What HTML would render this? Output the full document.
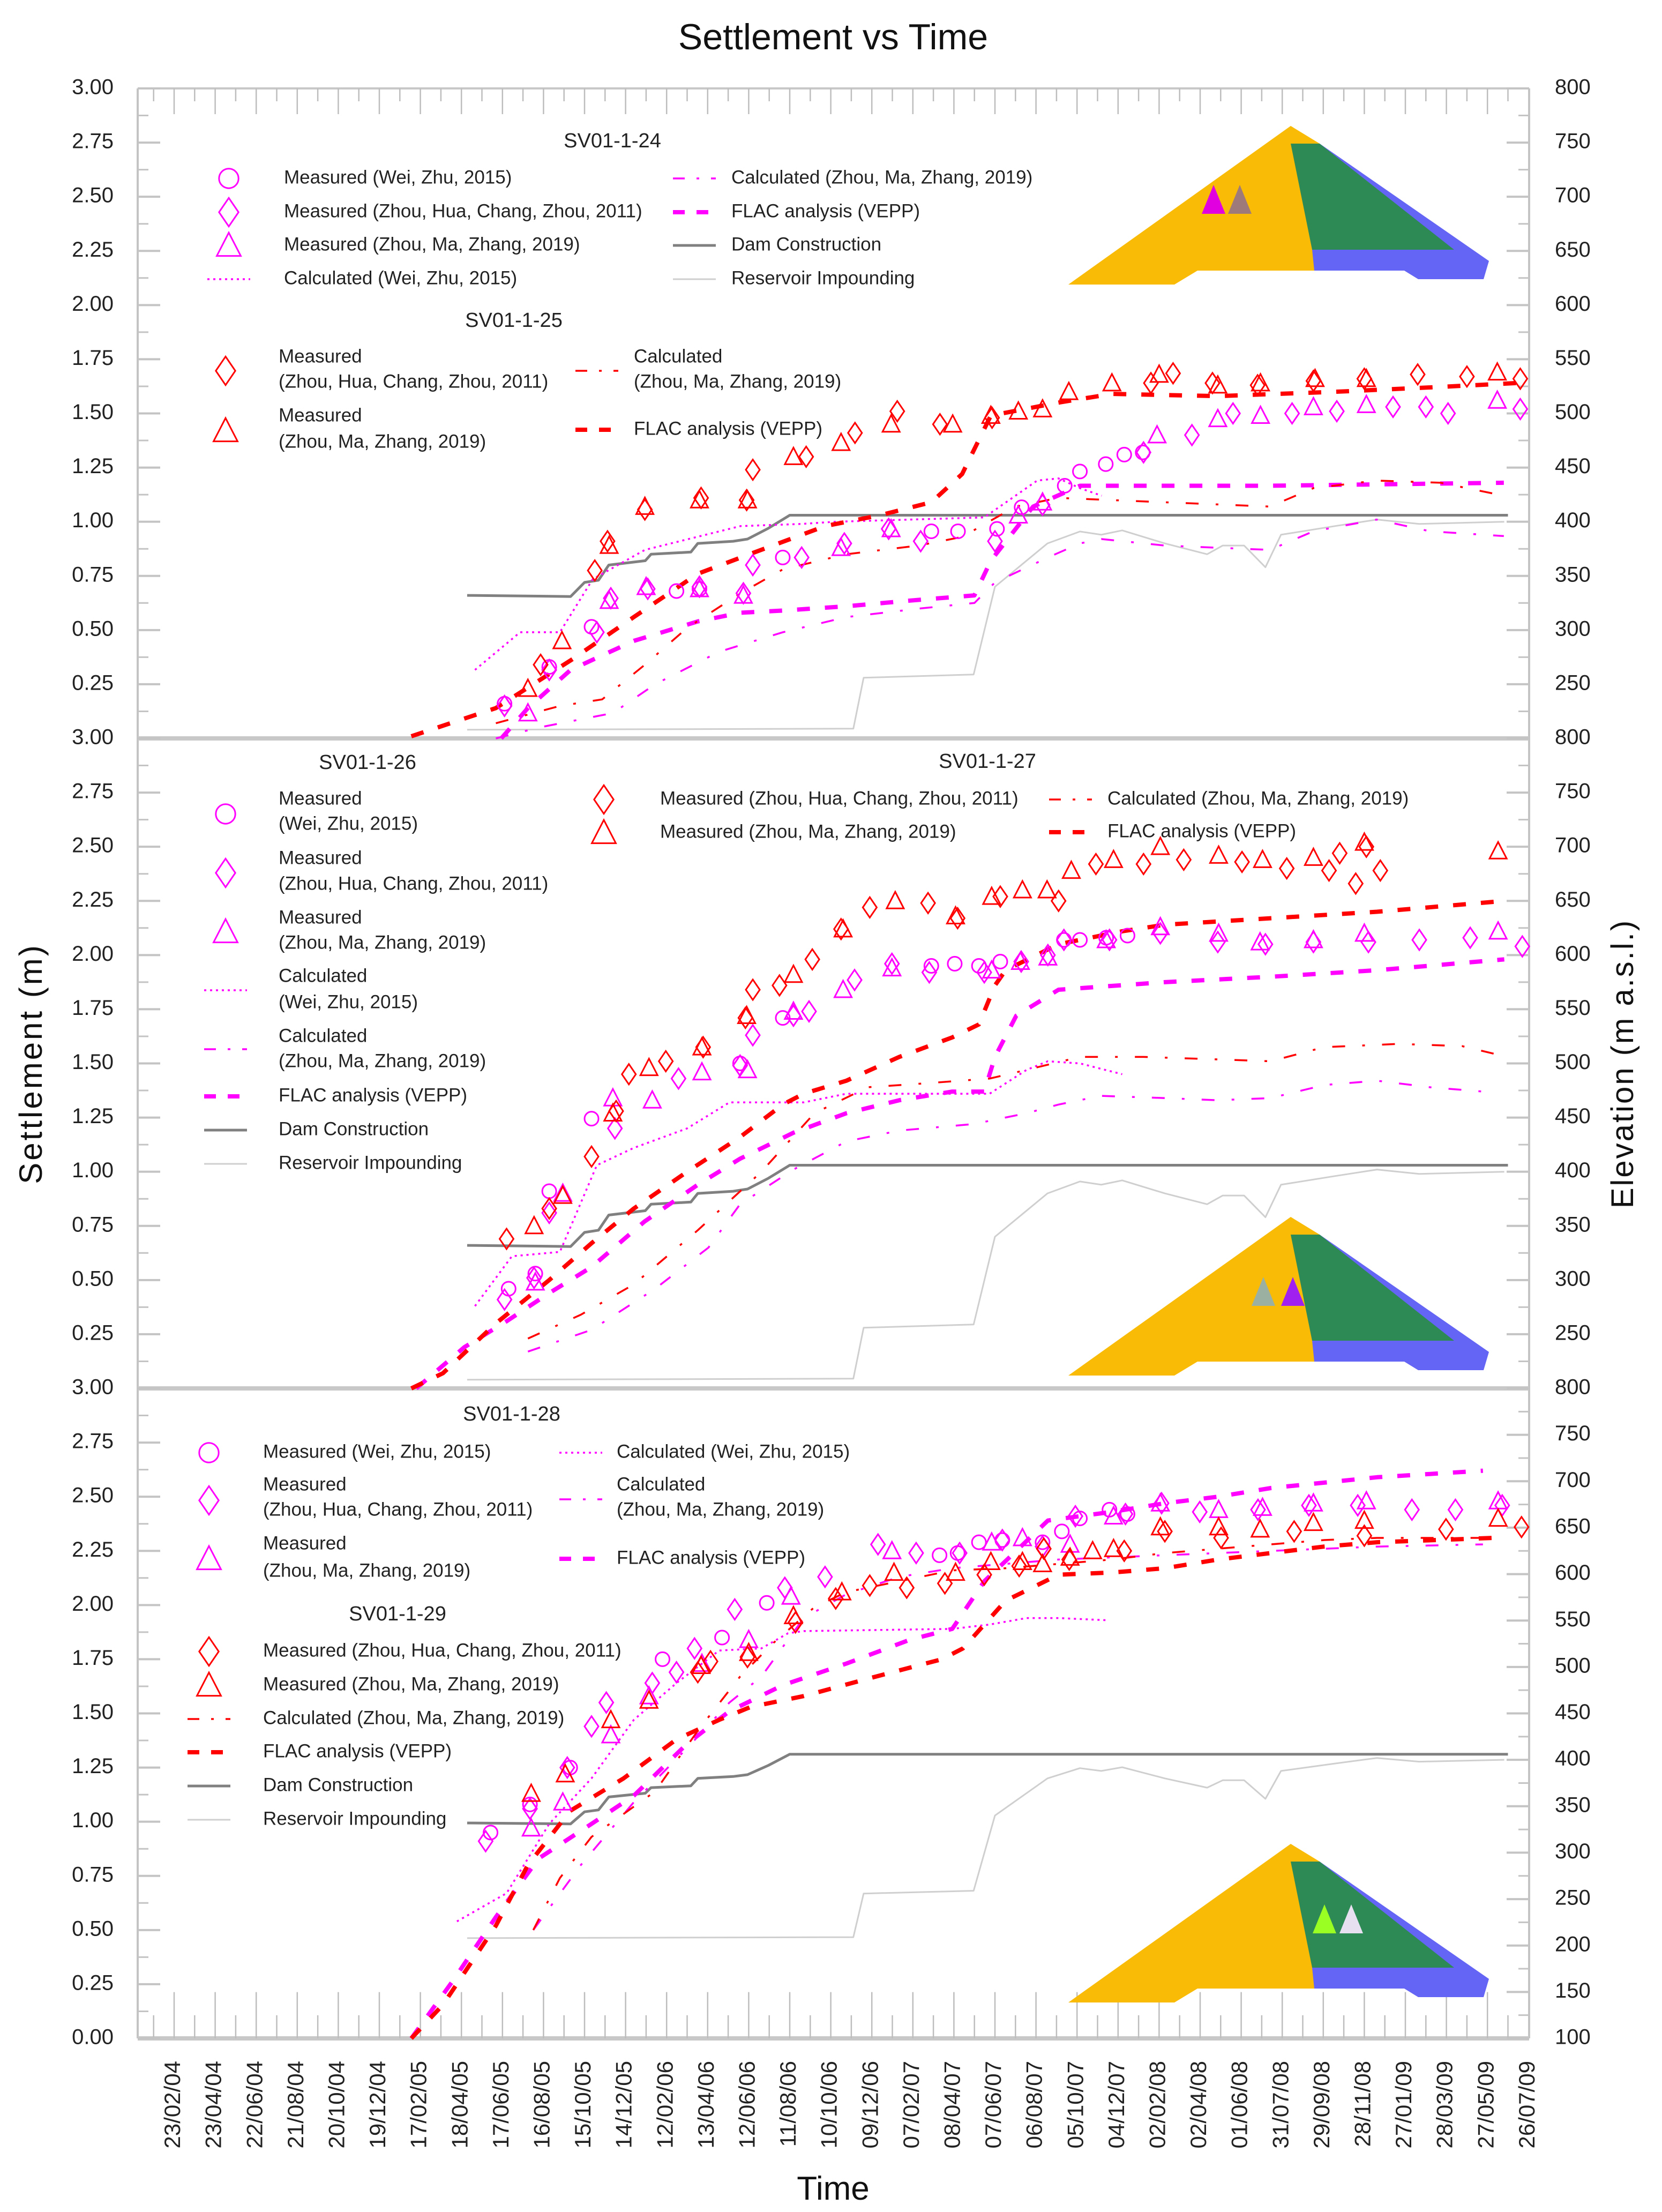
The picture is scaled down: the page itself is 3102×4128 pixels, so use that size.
<!DOCTYPE html>
<html><head><meta charset="utf-8"><title>Settlement vs Time</title>
<style>
html,body{margin:0;padding:0;background:#fff;}
svg{display:block;font-family:"Liberation Sans",sans-serif;}
</style></head>
<body>
<svg id="chart" xmlns="http://www.w3.org/2000/svg" width="3102" height="4128" viewBox="0 0 3102 4128">
<rect x="0" y="0" width="3102" height="4128" fill="#fff"/>
<text x="1555" y="92" font-size="68" text-anchor="middle" fill="#111">Settlement vs Time</text>
<text x="1555" y="4105" font-size="62" text-anchor="middle" fill="#111">Time</text>
<text x="78" y="1985" font-size="60" letter-spacing="4" text-anchor="middle" fill="#111" transform="rotate(-90,78,1985)">Settlement (m)</text>
<text x="3048" y="1985" font-size="58" letter-spacing="3" text-anchor="middle" fill="#111" transform="rotate(-90,3048,1985)">Elevation (m a.s.l.)</text>
</svg>
<script>
// ---------- data (t = periods of 60 days since 23/02/04, s = settlement m, e = elevation m) ----------
const dateLabels = ["23/02/04","23/04/04","22/06/04","21/08/04","20/10/04","19/12/04","17/02/05","18/04/05","17/06/05","16/08/05","15/10/05","14/12/05","12/02/06","13/04/06","12/06/06","11/08/06","10/10/06","09/12/06","07/02/07","08/04/07","07/06/07","06/08/07","05/10/07","04/12/07","02/02/08","02/04/08","01/06/08","31/07/08","29/09/08","28/11/08","27/01/09","28/03/09","27/05/09","26/07/09"];
const settleTicks = [0,0.25,0.5,0.75,1.0,1.25,1.5,1.75,2.0,2.25,2.5,2.75,3.0];
const elevTicksA = [200,250,300,350,400,450,500,550,600,650,700,750,800];
const elevTicksB = [100,150,200,250,300,350,400,450,500,550,600,650,700,750,800];

const damT = [7.14,9.66,10.0,10.34,10.59,11.48,11.62,12.59,12.76,13.62,13.97,14.48,15.0,32.5];
const damE = [332,331,344,346,360,364,370,372,380,382,384,394,406,406];
const resT = [7.14,16.55,16.8,19.48,20.0,21.28,22.07,22.59,23.1,24.14,25.17,25.55,26.07,26.59,26.97,28.28,29.31,30.34,32.41];
const resE = [208,209,256,259,340,380,391,388,392,380,370,378,378,358,388,396,402,398,400];

// Panel 1 (SV01-1-24 magenta, SV01-1-25 red)
const p1RedFlacT=[5.78,7.84,9.66,11.2,12.76,14.3,15.86,17.2,18.45,19.2,19.9,21.55,22.85,25.43,28.3,30.6,32.7];
const p1RedFlacS=[0.01,0.14,0.36,0.56,0.76,0.87,0.98,1.03,1.09,1.22,1.49,1.55,1.59,1.58,1.60,1.62,1.64];
const p1RedDiamT=[8.93,10.25,10.56,11.47,12.84,13.95,14.1,15.4,16.59,17.62,18.66,19.93,23.8,24.34,25.3,26.4,27.76,29.0,30.3,31.5,32.8];
const p1RedDiamS=[0.34,0.775,0.91,1.056,1.11,1.10,1.24,1.30,1.41,1.51,1.45,1.48,1.64,1.685,1.64,1.63,1.65,1.66,1.68,1.67,1.66];
const p1RedTriT=[8.62,9.45,10.6,11.47,12.8,13.97,15.09,16.25,17.47,18.97,19.9,20.57,21.16,21.8,22.85,24.0,25.43,26.47,27.8,29.05,32.24];
const p1RedTriS=[0.23,0.45,0.89,1.07,1.10,1.10,1.30,1.365,1.45,1.45,1.49,1.51,1.52,1.60,1.64,1.68,1.63,1.64,1.66,1.66,1.69];
const p1RedCalcT=[7.84,9.4,10.43,11.47,12.5,13.8,14.83,16.38,18.14,19.2,20.5,21.55,24.14,26.7,27.76,29.3,30.86,32.4];
const p1RedCalcS=[0.07,0.15,0.18,0.34,0.51,0.67,0.78,0.85,0.89,0.93,1.07,1.11,1.09,1.07,1.155,1.19,1.18,1.12];
const p1MagCircT=[8.05,9.14,10.17,12.24,12.8,14.83,18.45,19.1,20.05,20.65,21.7,22.07,22.7,23.15,23.6];
const p1MagCircS=[0.16,0.33,0.515,0.68,0.69,0.835,0.956,0.956,0.967,1.067,1.166,1.232,1.266,1.31,1.32];
const p1MagDiamT=[8.05,9.14,10.3,10.64,11.54,12.8,13.87,14.1,15.29,16.33,17.41,18.19,20.0,21.16,23.62,24.8,25.8,27.24,28.33,29.7,30.5,31.04,32.8];
const p1MagDiamS=[0.15,0.316,0.49,0.647,0.69,0.70,0.67,0.80,0.835,0.90,0.967,0.91,0.91,1.078,1.32,1.40,1.50,1.50,1.51,1.53,1.53,1.50,1.52];
const p1MagTriT=[8.62,10.6,11.5,12.8,13.87,16.25,17.47,20.57,21.16,23.95,25.43,26.47,27.76,29.05,32.24];
const p1MagTriS=[0.117,0.636,0.70,0.69,0.66,0.88,0.967,1.03,1.09,1.40,1.475,1.49,1.53,1.54,1.56];
const p1MagDotT=[7.33,8.43,9.4,10.2,11.47,13.8,15.3,16.1,19.74,21.03,21.55,22.07,22.6];
const p1MagDotS=[0.316,0.49,0.49,0.735,0.87,0.98,0.99,1.0,1.02,1.19,1.20,1.155,1.12];
const p1MagFlacT=[7.97,8.62,9.66,11.2,12.76,13.8,14.83,16.38,17.93,19.5,19.9,20.93,22.07,26.7,32.4];
const p1MagFlacS=[0,0.14,0.316,0.45,0.54,0.58,0.59,0.61,0.636,0.66,0.82,1.07,1.166,1.166,1.18];
const p1MagCalcT=[7.84,8.88,10.69,11.72,13.28,14.83,16.38,18.19,19.5,20.0,21.29,22.07,22.6,24.14,26.7,27.76,29.3,30.6,32.4];
const p1MagCalcS=[0,0.05,0.117,0.25,0.40,0.49,0.56,0.60,0.625,0.72,0.835,0.90,0.92,0.89,0.87,0.956,1.01,0.956,0.934];

// Panel 2 (SV01-1-26 magenta, SV01-1-27 red)
const p2RedFlacT=[5.78,6.55,7.84,9.14,10.17,11.2,12.5,13.79,14.83,15.34,16.38,17.67,18.96,19.61,20.0,20.26,21.55,23.1,24.14,26.72,29.31,32.41];
const p2RedFlacS=[0,0.07,0.30,0.50,0.67,0.83,1.0,1.16,1.31,1.36,1.42,1.53,1.62,1.68,1.86,1.93,2.05,2.11,2.14,2.17,2.20,2.25];
const p2RedCalcT=[8.62,9.91,11.2,12.76,14.31,15.6,16.9,18.45,19.87,20.77,22.07,23.62,25.17,26.72,28.02,29.83,31.38,32.15];
const p2RedCalcS=[0.23,0.34,0.48,0.73,1.0,1.27,1.39,1.41,1.43,1.47,1.53,1.53,1.52,1.51,1.575,1.59,1.58,1.545];
const p2RedDiamT=[8.10,9.14,10.17,10.77,11.08,11.98,12.89,13.92,14.10,14.75,15.55,16.25,16.95,18.37,19.09,20.13,21.55,22.46,23.62,24.60,26.02,27.11,28.14,28.40,28.79,29.05,29.39];
const p2RedDiamS=[0.69,0.83,1.07,1.28,1.45,1.51,1.575,1.71,1.84,1.86,1.98,2.12,2.22,2.24,2.17,2.27,2.25,2.42,2.42,2.44,2.43,2.40,2.39,2.47,2.33,2.50,2.39];
const p2RedTriT=[8.77,9.47,10.69,11.57,12.86,13.95,15.09,16.30,17.57,19.04,19.92,20.67,21.27,21.86,22.89,24.03,25.45,26.52,27.76,29.0,32.26];
const p2RedTriS=[0.75,0.89,1.27,1.48,1.575,1.72,1.91,2.12,2.25,2.18,2.27,2.30,2.30,2.39,2.44,2.50,2.46,2.44,2.45,2.52,2.48];
const p2MagCircT=[8.15,8.80,9.14,10.17,13.79,14.83,18.45,19.02,19.61,20.13,21.68,22.07,22.71,23.23];
const p2MagCircS=[0.46,0.53,0.91,1.245,1.50,1.71,1.95,1.96,1.95,1.97,2.07,2.07,2.08,2.09];
const p2MagDiamT=[8.05,8.77,9.14,10.74,12.29,13.79,14.10,15.09,15.47,16.58,17.49,18.40,19.74,20.64,21.29,21.68,22.79,24.03,25.43,26.59,27.76,29.1,30.34,31.58,32.85];
const p2MagDiamS=[0.41,0.51,0.81,1.20,1.43,1.49,1.63,1.72,1.74,1.885,1.96,1.92,1.92,1.97,2.0,2.07,2.07,2.10,2.06,2.05,2.06,2.06,2.07,2.08,2.04];
const p2MagTriT=[8.80,9.47,10.69,11.65,12.86,13.97,15.09,16.30,17.49,19.92,20.62,21.29,22.71,24.03,25.45,26.46,27.76,29.0,32.26];
const p2MagTriS=[0.49,0.90,1.34,1.33,1.46,1.47,1.74,1.84,1.94,1.93,1.97,1.99,2.07,2.13,2.10,2.06,2.07,2.10,2.11];
const p2MagDotT=[7.33,8.23,9.40,10.30,11.20,12.50,13.53,15.34,16.38,19.87,20.77,21.29,22.07,23.10];
const p2MagDotS=[0.38,0.61,0.63,1.03,1.11,1.20,1.32,1.32,1.36,1.36,1.47,1.51,1.50,1.45];
const p2MagFlacT=[5.90,7.07,8.10,9.14,10.17,11.46,12.76,13.79,15.09,16.38,17.67,18.96,19.74,20.0,20.52,21.55,24.14,26.72,29.31,32.41];
const p2MagFlacS=[0,0.19,0.31,0.44,0.56,0.77,0.94,1.06,1.18,1.27,1.33,1.37,1.37,1.53,1.72,1.84,1.875,1.90,1.93,1.98];
const p2MagCalcT=[8.62,10.17,11.72,13.02,13.79,15.09,16.38,17.67,19.48,20.77,21.55,22.58,24.14,25.43,26.72,28.02,29.31,30.6,31.89];
const p2MagCalcS=[0.17,0.27,0.46,0.65,0.85,1.01,1.14,1.19,1.22,1.27,1.31,1.35,1.34,1.33,1.34,1.40,1.42,1.39,1.37];

// Panel 3 (SV01-1-28 magenta, SV01-1-29 red)
const p3RedFlacT=[5.78,6.55,7.84,8.62,9.65,10.95,12.24,13.28,14.05,15.34,16.90,18.71,19.22,20.26,21.55,22.84,24.14,25.43,26.72,28.02,29.31,32.15];
const p3RedFlacS=[0,0.155,0.52,0.80,1.05,1.20,1.38,1.47,1.53,1.58,1.66,1.75,1.80,2.02,2.14,2.15,2.17,2.21,2.24,2.27,2.29,2.31];
const p3RedCalcT=[8.75,9.40,10.17,11.72,12.76,13.79,14.57,15.60,16.38,17.67,18.96,20.26,21.55,22.84,24.14,25.43,26.72,28.02,29.31,32.15];
const p3RedCalcS=[0.50,0.74,0.93,1.14,1.42,1.67,1.82,1.99,2.06,2.11,2.16,2.17,2.19,2.21,2.24,2.26,2.28,2.30,2.31,2.31];
const p3RedDiamT=[12.76,13.07,13.97,15.14,16.12,16.95,17.85,18.78,19.74,20.59,21.19,21.81,23.15,24.14,25.51,27.29,29.0,30.99,32.83];
const p3RedDiamS=[1.69,1.74,1.76,1.92,2.03,2.09,2.08,2.10,2.14,2.18,2.26,2.21,2.25,2.34,2.31,2.34,2.32,2.35,2.36];
const p3RedTriT=[8.70,9.53,10.64,11.57,12.84,14.0,15.09,16.27,17.54,19.04,19.90,20.67,21.16,21.83,22.38,22.89,24.03,25.45,26.46,27.76,29.0,32.26];
const p3RedTriS=[1.13,1.22,1.47,1.56,1.72,1.78,1.95,2.06,2.15,2.15,2.20,2.20,2.19,2.22,2.25,2.26,2.36,2.36,2.35,2.38,2.39,2.40];
const p3MagCircT=[7.71,8.67,9.65,11.90,13.35,14.44,18.65,19.09,19.61,20.18,21.16,21.63,22.07,22.79,23.23];
const p3MagCircS=[0.95,1.08,1.25,1.75,1.85,2.01,2.23,2.24,2.29,2.30,2.29,2.34,2.40,2.44,2.42];
const p3MagDiamT=[7.59,8.67,9.58,10.17,10.53,11.65,12.24,12.68,13.66,14.88,15.86,17.15,18.08,19.14,20.18,21.16,21.96,23.18,24.06,24.99,26.41,27.65,28.84,30.16,31.22,32.36];
const p3MagDiamS=[0.91,1.06,1.25,1.44,1.55,1.64,1.69,1.80,1.98,2.08,2.13,2.28,2.24,2.24,2.30,2.27,2.41,2.42,2.47,2.43,2.44,2.46,2.46,2.44,2.44,2.46];
const p3MagTriT=[8.70,9.47,10.64,11.57,12.86,14.0,15.03,17.49,19.92,20.67,21.83,22.89,24.03,25.45,26.52,27.76,29.05,32.26];
const p3MagTriS=[0.97,1.09,1.40,1.58,1.73,1.84,2.04,2.25,2.29,2.31,2.28,2.41,2.47,2.44,2.45,2.47,2.48,2.48];
const p3MagDotT=[6.89,8.10,9.14,10.17,11.20,12.24,13.28,14.31,14.96,15.34,18.96,19.87,20.77,21.55,22.71];
const p3MagDotS=[0.54,0.67,0.99,1.20,1.47,1.64,1.79,1.80,1.87,1.88,1.89,1.91,1.94,1.94,1.93];
const p3MagFlacT=[5.78,6.81,7.84,8.88,10.17,11.20,12.50,13.53,14.83,16.38,17.93,18.96,19.74,20.52,21.29,22.84,24.14,25.43,26.72,29.31,31.89];
const p3MagFlacS=[0,0.27,0.56,0.83,0.99,1.12,1.36,1.51,1.63,1.73,1.84,1.89,2.11,2.25,2.39,2.43,2.47,2.50,2.54,2.59,2.62];
const p3MagCalcT=[8.75,9.91,11.20,12.50,13.53,14.31,15.34,16.38,17.67,18.96,20.26,21.55,24.14,26.72,29.31,31.89];
const p3MagCalcS=[0.50,0.80,1.09,1.34,1.55,1.67,1.94,2.05,2.13,2.17,2.19,2.21,2.23,2.25,2.27,2.28];

// ---------- layout ----------
const NS = "http://www.w3.org/2000/svg";
const svg = document.getElementById('chart');
const L = 257, R = 2854, PH = 1213;
const panelTop = [165, 1378, 2591];
const RED = "#ff0000", MAG = "#ff00ff";
function xOf(t){ return 325 + 76.6 * t; }
function yOf(s, p){ return panelTop[p] + (3 - s) / 3 * PH; }
function elevToS(e, p){ return p < 2 ? (e - 200) / 200 : (e - 100) * 3 / 700; }
function mk(tag, attrs, parent){
  const el = document.createElementNS(NS, tag);
  for (const k in attrs) el.setAttribute(k, attrs[k]);
  (parent || svg).appendChild(el);
  return el;
}
function txt(str, x, y, size, anchor, parent){
  const el = mk('text', {x:x, y:y, 'font-size':size, 'text-anchor':anchor||'start', 'dominant-baseline':'middle', fill:'#222'}, parent);
  el.textContent = str;
  return el;
}
const STYLES = {
  flac: {w:8, dash:"24 28"},
  calc: {w:3.5, dash:"24 32 5 32"},
  dot: {w:3.5, dash:"4 7"},
  dam: {w:5, dash:"none", color:"#808080"},
  res: {w:3, dash:"none", color:"#cfcfcf"}
};
function linePath(ts, ss, p, style, color, parent){
  const st = STYLES[style];
  const d = ts.map((t,i)=>(i?'L':'M')+xOf(t).toFixed(1)+','+yOf(ss[i],p).toFixed(1)).join('');
  return mk('path', {d:d, fill:'none', stroke: st.color||color, 'stroke-width':st.w, 'stroke-dasharray':st.dash, 'stroke-linejoin':'round'}, parent);
}
function markerAt(type, x, y, color, parent, sc){
  sc = sc || 1;
  if (type==='circ') return mk('circle', {cx:x, cy:y, r:13*sc, fill:'none', stroke:color, 'stroke-width':3}, parent);
  if (type==='diam') return mk('path', {d:`M${x},${y-19*sc}L${x+13*sc},${y}L${x},${y+19*sc}L${x-13*sc},${y}Z`, fill:'none', stroke:color, 'stroke-width':3}, parent);
  return mk('path', {d:`M${x},${y-17*sc}L${x+16*sc},${y+14*sc}L${x-16*sc},${y+14*sc}Z`, fill:'none', stroke:color, 'stroke-width':3}, parent);
}
function scatter(ts, ss, p, type, color, parent){
  ts.forEach((t,i)=>{
    const m = markerAt(type, xOf(t), yOf(ss[i],p), color, parent);
    
    
  });
}

// ---------- axes ----------
const axes = mk('g', {});


mk('line', {x1:L, y1:165, x2:L, y2:3804, stroke:'#c4c4c4', 'stroke-width':4}, axes);
mk('line', {x1:R, y1:165, x2:R, y2:3804, stroke:'#c4c4c4', 'stroke-width':4}, axes);
[165, 1378, 2591, 3804].forEach((y,i)=>{
  const ln = mk('line', {x1:L, y1:y, x2:R, y2:y, stroke:'#c8c8c8', 'stroke-width': (i===0)?4:8}, axes);
  
  
});
for (let k=-1; k<=67; k++){
  const t = k/2, x = xOf(t);
  if (x < L+2 || x > R-2) continue;
  const len = (k%2===0) ? 48 : 24;
  mk('line', {x1:x, y1:165, x2:x, y2:165+len, stroke:'#bdbdbd', 'stroke-width':2.5}, axes);
  mk('line', {x1:x, y1:3804, x2:x, y2:3804-len*1.8, stroke:'#bdbdbd', 'stroke-width':2.5}, axes);
}
dateLabels.forEach((lab,i)=>{
  const x = xOf(i);
  const el = mk('text', {x:x, y:3846, 'font-size':42, 'text-anchor':'end', 'dominant-baseline':'middle', fill:'#222', transform:`rotate(-90,${x},3846)`}, axes);
  el.textContent = lab;
  
  
});
for (let p=0; p<3; p++){
  settleTicks.forEach((s,i)=>{
    const y = yOf(s,p);
    mk('line', {x1:L, y1:y, x2:L+42, y2:y, stroke:'#c4c4c4', 'stroke-width':4}, axes);
    if (s < 3) mk('line', {x1:L, y1:yOf(s+0.125,p), x2:L+20, y2:yOf(s+0.125,p), stroke:'#c4c4c4', 'stroke-width':3}, axes);
    if (s===0 && p<2) return;
    const el = txt(s.toFixed(2), 212, y, 40, 'end', axes);
    
    
  });
  const ticks = p<2 ? elevTicksA : elevTicksB;
  ticks.forEach((e,i)=>{
    const y = yOf(elevToS(e,p),p);
    mk('line', {x1:R, y1:y, x2:R-42, y2:y, stroke:'#c4c4c4', 'stroke-width':4}, axes);
    if (i < ticks.length-1) { const ym = yOf(elevToS(e+25,p),p); mk('line', {x1:R, y1:ym, x2:R-20, y2:ym, stroke:'#c4c4c4', 'stroke-width':3}, axes); }
    if (i===0 && p<2) return;
    const el = txt(String(e), 2902, y, 40, 'start', axes);
    
    
  });
}

// ---------- dam insets ----------
function damInset(dy, markers, name){
  const g = mk('g', {transform:`translate(0,${dy})`});
  
  
  mk('polygon', {points:'1994,531 2409,235 2463,268 2453,505 2235,505 2192,531', fill:'#f9bb05'}, g);
  mk('polygon', {points:'2463,268 2779,487 2769,521 2647,521 2621,505 2453,505 2449,466', fill:'#6464f5'}, g);
  mk('polygon', {points:'2409,268 2463,268 2714,466 2449,466', fill:'#2e8a55'}, g);
  markers.forEach(m=>{
    mk('path', {d:`M${m[0]},${m[1]-30}L${m[0]+22},${m[1]+24}L${m[0]-22},${m[1]+24}Z`, fill:m[2]}, g);
  });
}
damInset(0, [[2265,375,'#e000e0'],[2314,375,'#9e7a7a']], 'dam-inset-top');
damInset(2036, [[2358,377,'#9bb0a0'],[2413,377,'#a020f0']], 'dam-inset-middle');
damInset(3206, [[2472,378,'#9aff22'],[2522,378,'#e6e0f0']], 'dam-inset-bottom');

// ---------- series ----------
function drawPanel(p, d){
  const g = mk('g', {});
  
  
  const dam = linePath(damT, damE.map(e=>elevToS(e,p)), p, 'dam', null, g);
  
  
  const res = linePath(resT, resE.map(e=>elevToS(e,p)), p, 'res', null, g);
  
  
  d.lines.forEach(l=>{
    const el = linePath(l[0], l[1], p, l[2], l[3], g);
    
    
  });
  d.pts.forEach(s=>scatter(s[0], s[1], p, s[2], s[3], g));
}
drawPanel(0, {lines:[
  [p1MagDotT,p1MagDotS,'dot',MAG,'calc-wei-zhu-line'],
  [p1MagCalcT,p1MagCalcS,'calc',MAG,'calc-zhou-ma-zhang-magenta-line'],
  [p1MagFlacT,p1MagFlacS,'flac',MAG,'flac-magenta-line'],
  [p1RedCalcT,p1RedCalcS,'calc',RED,'calc-zhou-ma-zhang-red-line'],
  [p1RedFlacT,p1RedFlacS,'flac',RED,'flac-red-line']],
 pts:[[p1MagCircT,p1MagCircS,'circ',MAG],[p1MagDiamT,p1MagDiamS,'diam',MAG],[p1MagTriT,p1MagTriS,'tri',MAG],
      [p1RedDiamT,p1RedDiamS,'diam',RED],[p1RedTriT,p1RedTriS,'tri',RED]]});
drawPanel(1, {lines:[
  [p2MagDotT,p2MagDotS,'dot',MAG,'calc-wei-zhu-line'],
  [p2MagCalcT,p2MagCalcS,'calc',MAG,'calc-zhou-ma-zhang-magenta-line'],
  [p2MagFlacT,p2MagFlacS,'flac',MAG,'flac-magenta-line'],
  [p2RedCalcT,p2RedCalcS,'calc',RED,'calc-zhou-ma-zhang-red-line'],
  [p2RedFlacT,p2RedFlacS,'flac',RED,'flac-red-line']],
 pts:[[p2MagCircT,p2MagCircS,'circ',MAG],[p2MagDiamT,p2MagDiamS,'diam',MAG],[p2MagTriT,p2MagTriS,'tri',MAG],
      [p2RedDiamT,p2RedDiamS,'diam',RED],[p2RedTriT,p2RedTriS,'tri',RED]]});
drawPanel(2, {lines:[
  [p3MagDotT,p3MagDotS,'dot',MAG,'calc-wei-zhu-line'],
  [p3MagCalcT,p3MagCalcS,'calc',MAG,'calc-zhou-ma-zhang-magenta-line'],
  [p3MagFlacT,p3MagFlacS,'flac',MAG,'flac-magenta-line'],
  [p3RedCalcT,p3RedCalcS,'calc',RED,'calc-zhou-ma-zhang-red-line'],
  [p3RedFlacT,p3RedFlacS,'flac',RED,'flac-red-line']],
 pts:[[p3MagCircT,p3MagCircS,'circ',MAG],[p3MagDiamT,p3MagDiamS,'diam',MAG],[p3MagTriT,p3MagTriS,'tri',MAG],
      [p3RedDiamT,p3RedDiamS,'diam',RED],[p3RedTriT,p3RedTriS,'tri',RED]]});

// ---------- legends ----------
const FS = 35;
function legMarker(type, x, y, color){
  const m = markerAt(type, x, y, color, svg, 1.4);
  
  
}
function legLine(style, x, y, color){
  const st = STYLES[style];
  const dash = style==='flac' ? "22 22" : (style==='calc' ? "22 22 5 22" : st.dash);
  const l = mk('line', {x1:x-40, y1:y, x2:x+40, y2:y, stroke:st.color||color, 'stroke-width':st.w, 'stroke-dasharray':dash});
  
  
}
function legText(str, x, y){
  const t = txt(str, x, y, FS, 'start');
  
  
}
function title(str, x, y){
  const t = txt(str, x, y, 38, 'middle');
  
  
}
title('SV01-1-24', 1143, 265);
legMarker('circ', 427, 333, MAG); legText('Measured (Wei, Zhu, 2015)', 530, 333);
legMarker('diam', 427, 396, MAG); legText('Measured (Zhou, Hua, Chang, Zhou, 2011)', 530, 396);
legMarker('tri', 427, 458, MAG); legText('Measured (Zhou, Ma, Zhang, 2019)', 530, 458);
legLine('dot', 427, 521, MAG); legText('Calculated (Wei, Zhu, 2015)', 530, 521);
legLine('calc', 1296, 333, MAG); legText('Calculated (Zhou, Ma, Zhang, 2019)', 1365, 333);
legLine('flac', 1296, 396, MAG); legText('FLAC analysis (VEPP)', 1365, 396);
legLine('dam', 1296, 458); legText('Dam Construction', 1365, 458);
legLine('res', 1296, 521); legText('Reservoir Impounding', 1365, 521);
title('SV01-1-25', 959, 600);
legMarker('diam', 421, 692, RED); legText('Measured', 520, 667); legText('(Zhou, Hua, Chang, Zhou, 2011)', 520, 714);
legMarker('tri', 421, 804, RED); legText('Measured', 520, 777); legText('(Zhou, Ma, Zhang, 2019)', 520, 826);
legLine('calc', 1114, 692, RED); legText('Calculated', 1183, 667); legText('(Zhou, Ma, Zhang, 2019)', 1183, 714);
legLine('flac', 1114, 802, RED); legText('FLAC analysis (VEPP)', 1183, 802);
title('SV01-1-26', 686, 1425);
title('SV01-1-27', 1843, 1423);
legMarker('circ', 421, 1519, MAG); legText('Measured', 520, 1492); legText('(Wei, Zhu, 2015)', 520, 1539);
legMarker('diam', 421, 1629, MAG); legText('Measured', 520, 1603); legText('(Zhou, Hua, Chang, Zhou, 2011)', 520, 1651);
legMarker('tri', 421, 1739, MAG); legText('Measured', 520, 1714); legText('(Zhou, Ma, Zhang, 2019)', 520, 1761);
legLine('dot', 421, 1848, MAG); legText('Calculated', 520, 1823); legText('(Wei, Zhu, 2015)', 520, 1872);
legLine('calc', 421, 1958, MAG); legText('Calculated', 520, 1935); legText('(Zhou, Ma, Zhang, 2019)', 520, 1982);
legLine('flac', 421, 2046, MAG); legText('FLAC analysis (VEPP)', 520, 2046);
legLine('dam', 421, 2109); legText('Dam Construction', 520, 2109);
legLine('res', 421, 2172); legText('Reservoir Impounding', 520, 2172);
legMarker('diam', 1127, 1492, RED); legText('Measured (Zhou, Hua, Chang, Zhou, 2011)', 1232, 1492);
legMarker('tri', 1127, 1554, RED); legText('Measured (Zhou, Ma, Zhang, 2019)', 1232, 1554);
legLine('calc', 1998, 1492, RED); legText('Calculated (Zhou, Ma, Zhang, 2019)', 2067, 1492);
legLine('flac', 1998, 1553, RED); legText('FLAC analysis (VEPP)', 2067, 1553);
title('SV01-1-28', 955, 2641);
legMarker('circ', 390, 2711, MAG); legText('Measured (Wei, Zhu, 2015)', 491, 2711);
legMarker('diam', 390, 2800, MAG); legText('Measured', 491, 2772); legText('(Zhou, Hua, Chang, Zhou, 2011)', 491, 2819);
legMarker('tri', 390, 2909, MAG); legText('Measured', 491, 2882); legText('(Zhou, Ma, Zhang, 2019)', 491, 2933);
legLine('dot', 1084, 2711, MAG); legText('Calculated (Wei, Zhu, 2015)', 1151, 2711);
legLine('calc', 1084, 2798, MAG); legText('Calculated', 1151, 2772); legText('(Zhou, Ma, Zhang, 2019)', 1151, 2819);
legLine('flac', 1084, 2909, MAG); legText('FLAC analysis (VEPP)', 1151, 2909);
title('SV01-1-29', 742, 3014);
legMarker('diam', 390, 3082, RED); legText('Measured (Zhou, Hua, Chang, Zhou, 2011)', 491, 3082);
legMarker('tri', 390, 3145, RED); legText('Measured (Zhou, Ma, Zhang, 2019)', 491, 3145);
legLine('calc', 390, 3208, RED); legText('Calculated (Zhou, Ma, Zhang, 2019)', 491, 3208);
legLine('flac', 390, 3270, RED); legText('FLAC analysis (VEPP)', 491, 3270);
legLine('dam', 390, 3333); legText('Dam Construction', 491, 3333);
legLine('res', 390, 3396); legText('Reservoir Impounding', 491, 3396);
</script>
</body></html>
